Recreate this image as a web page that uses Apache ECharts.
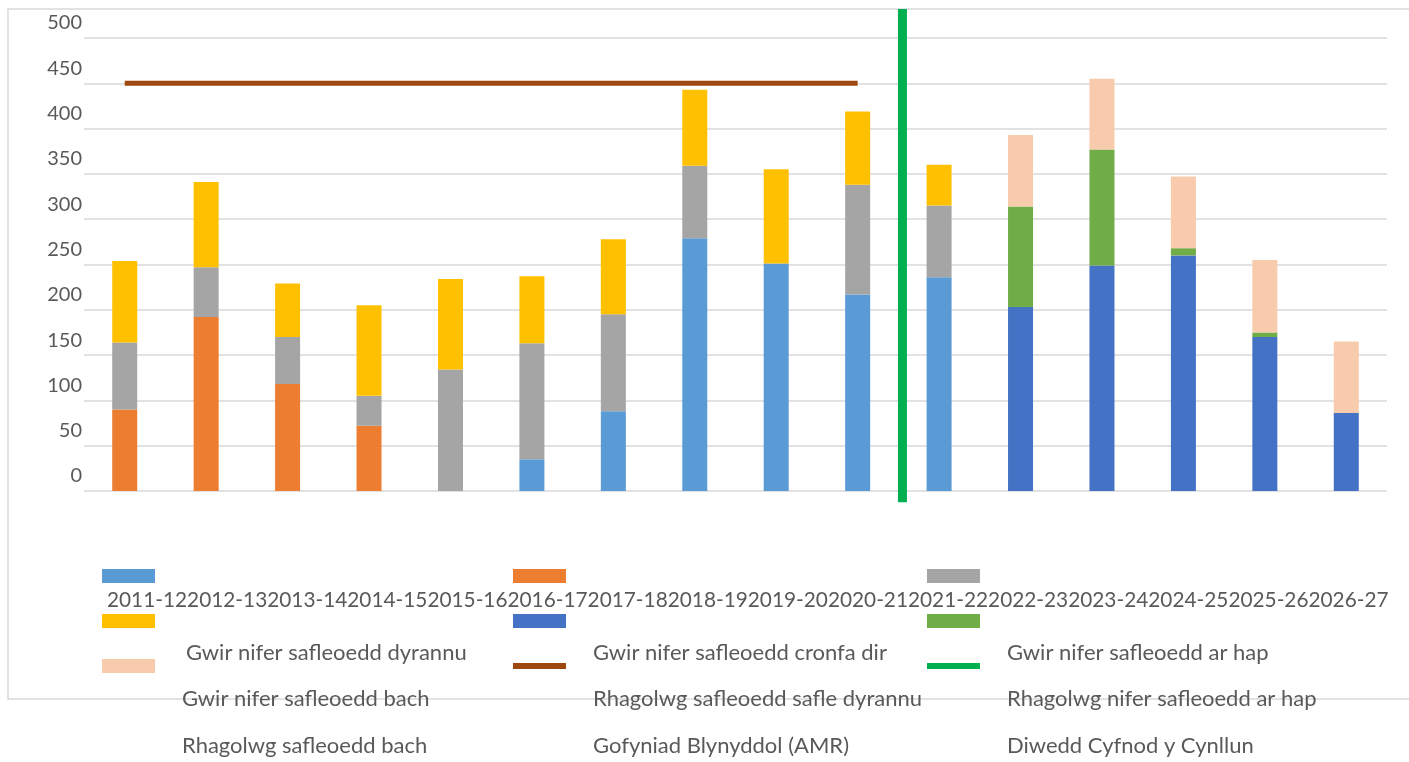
<!DOCTYPE html>
<html>
<head>
<meta charset="utf-8">
<script src="https://cdn.jsdelivr.net/npm/echarts@6/dist/echarts.min.js"></script>
<style>
html,body{margin:0;padding:0;background:#fff;}
#chart{width:1409px;height:762px;}
</style>
</head>
<body>
<div id="chart"></div>
<script>
// ---- data ----
const categories = ['2011-12','2012-13','2013-14','2014-15','2015-16','2016-17','2017-18','2018-19','2019-20','2020-21','2021-22','2022-23','2023-24','2024-25','2025-26','2026-27'];
const seriesNames = ['Gwir nifer safleoedd dyrannu','Gwir nifer safleoedd cronfa dir','Gwir nifer safleoedd ar hap','Gwir nifer safleoedd bach','Rhagolwg safleoedd safle dyrannu','Rhagolwg nifer safleoedd ar hap','Rhagolwg safleoedd bach','Gofyniad Blynyddol (AMR)','Diwedd Cyfnod y Cynllun'];
const actualAllocated = [null,null,null,null,null,35,88,279,251,217,236,null,null,null,null,null];
const actualLandBank  = [90,192,118,72,null,null,null,null,null,null,null,null,null,null,null,null];
const actualWindfall  = [74,55,52,33,134,128,107,80,null,121,79,null,null,null,null,null];
const actualSmall     = [90,94,59,100,100,74,83,84,104,81,45,null,null,null,null,null];
const forecastAllocated = [null,null,null,null,null,null,null,null,null,null,null,203,249,260,170,86];
const forecastWindfall  = [null,null,null,null,null,null,null,null,null,null,null,111,128,8,5,null];
const forecastSmall     = [null,null,null,null,null,null,null,null,null,null,null,79,78,79,80,79];
const amr = [450,450,450,450,450,450,450,450,450,450,null,null,null,null,null,null];
const planEndX = 10.05;
const planEndY = [-12.5, 532];
const yTicks = {min:0, max:500, interval:50};

const colors = ['#5B9BD5','#ED7D31','#A5A5A5','#FFC000','#4472C4','#70AD47','#F8CBAD','#9E480E','#00B050'];
const barData = [actualAllocated, actualLandBank, actualWindfall, actualSmall, forecastAllocated, forecastWindfall, forecastSmall];

const FONT = 'Lato';
const TXT = '#595959';

const series = barData.map((d, i) => ({
  name: seriesNames[i],
  type: 'bar',
  stack: 'total',
  barWidth: 25,
  data: d.map(v => v == null ? '-' : v),
  itemStyle: {color: colors[i]},
  emphasis: {disabled: true},
  z: 2
}));
series.push({
  name: seriesNames[7], type: 'line', data: amr.map(v => v == null ? '-' : v),
  symbol: 'none', lineStyle: {color: colors[7], width: 5, cap: 'butt'}, z: 3, silent: true
});
series.push({
  name: seriesNames[8], type: 'line', xAxisIndex: 1, clip: false,
  data: [[planEndX, planEndY[0]], [planEndX, planEndY[1]]],
  symbol: 'none', lineStyle: {color: colors[8], width: 9, cap: 'butt'}, z: 4, silent: true
});

// legend (drawn as in the reference: swatches and labels offset)
const graphic = [];
graphic.push({type:'rect', shape:{x:8, y:9, width:1430, height:690}, style:{fill:'none', stroke:'#D9D9D9', lineWidth:1.5}, z:-10, silent:true});
const colX = [102, 513, 927];
const rowY = [569, 614, 659];
const textX = [[186, 593, 1007],[182, 593, 1007],[182, 593, 1007]];
const textY = [653, 699, 746];
for (let i = 0; i < 9; i++) {
  const c = i % 3, r = Math.floor(i / 3);
  if (i < 7) {
    graphic.push({type:'rect', shape:{x:colX[c], y:rowY[r], width:53, height:14}, style:{fill:colors[i]}, silent:true});
  } else {
    graphic.push({type:'rect', shape:{x:colX[c], y:663, width:53, height:6}, style:{fill:colors[i]}, silent:true});
  }
  graphic.push({type:'text', x:textX[r][c], y:textY[r], style:{text:seriesNames[i], font:'22px ' + FONT, fill:TXT, textVerticalAlign:'middle', textAlign:'left'}, silent:true});
}
graphic.push({type:'text', x:107, y:600, style:{text:categories.join(''), font:'20.8px ' + FONT, fill:TXT, textVerticalAlign:'middle', textAlign:'left'}, silent:true});

const chart = echarts.init(document.getElementById('chart'), null, {renderer:'canvas'});
chart.setOption({
  backgroundColor: '#fff',
  animation: false,
  grid: {left:84, right:22, top:38, bottom:271, containLabel:false},
  xAxis: [
    {type:'category', data:categories, axisLabel:{show:false}, axisTick:{show:false}, axisLine:{show:false}, splitLine:{show:false}},
    {type:'value', min:0, max:categories.length, show:false}
  ],
  yAxis: {
    type:'value', min:yTicks.min, max:yTicks.max, interval:yTicks.interval,
    axisLine:{show:false}, axisTick:{show:false},
    splitLine:{show:true, lineStyle:{color:'#D9D9D9', width:1.5}},
    axisLabel:{color:TXT, fontFamily:FONT, fontSize:20, margin:2, formatter:'{a|{value}}', rich:{a:{fontFamily:FONT, fontSize:20, color:TXT, padding:[0,0,30,0]}}}
  },
  tooltip:{show:false},
  series: series,
  graphic: graphic
});
</script>
</body>
</html>
